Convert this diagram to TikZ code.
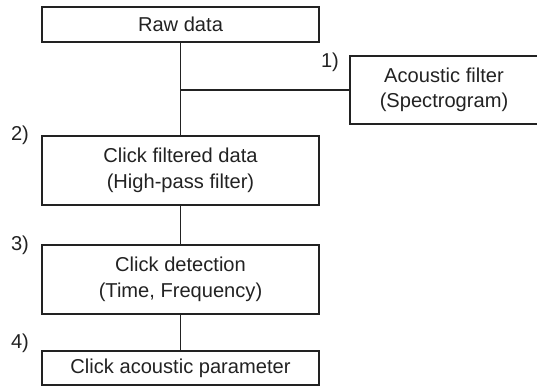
\documentclass[tikz,border=0pt]{standalone}
\usepackage{fontspec}
\setmainfont{Liberation Sans}
\definecolor{ink}{HTML}{222222}
\begin{document}
\begin{tikzpicture}[x=1pt,y=-1pt,
  box/.style={draw=ink, line width=1.3pt, rectangle, inner sep=0pt, align=center, text=ink,
    font=\fontsize{20.1}{25.5}\selectfont},
  lab/.style={inner sep=0pt, text=ink, font=\fontsize{20.1}{25.5}\selectfont},
  conn/.style={draw=ink, line width=1.3pt}]
\useasboundingbox (0,0) rectangle (537,387);
\node[box, minimum width=277pt, minimum height=35pt] (raw) at (180.5,24.5) {Raw data};
\node[box, minimum width=188pt, minimum height=68pt] (acf) at (444,90) {Acoustic filter\\(Spectrogram)};
\node[box, minimum width=277pt, minimum height=69pt] (cfd) at (180.5,170.5) {Click filtered data\\(High-pass filter)};
\node[box, minimum width=277pt, minimum height=69pt] (cdt) at (180.5,279.5) {Click detection\\(Time, Frequency)};
\node[box, minimum width=277pt, minimum height=34pt] (cap) at (180.5,368) {Click acoustic parameter};
\coordinate (j) at (raw.south |- acf.west);
\node[lab] (l1) at (330,62) {1)};
\node[lab] (l2) at (20,135) {2)};
\node[lab] (l3) at (20,245) {3)};
\node[lab] (l4) at (20,343) {4)};
\draw[conn] (raw.south) -- (cfd.north);
\draw[conn] (j) -- (acf.west);
\draw[conn] (cfd.south) -- (cdt.north);
\draw[conn] (cdt.south) -- (cap.north);
\end{tikzpicture}
\end{document}
